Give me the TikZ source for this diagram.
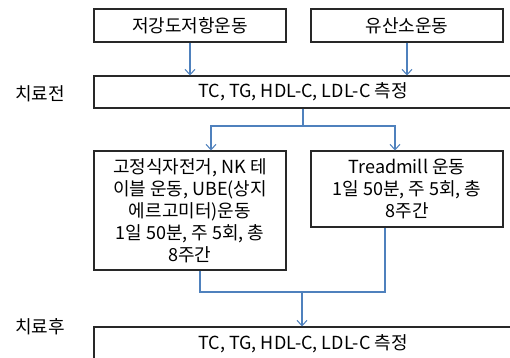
\documentclass[tikz,border=0pt]{standalone}
\usepackage{fontspec}
\setmainfont{Noto Sans CJK KR}
\usetikzlibrary{arrows.meta,calc}
\definecolor{flowblue}{RGB}{79,129,189}
\definecolor{boxgray}{RGB}{40,40,40}
\tikzset{
  box/.style={draw=boxgray,line width=0.8pt,inner sep=0pt,align=center,font=\fontsize{13.5}{16.5}\selectfont},
  flow/.style={draw=flowblue,line width=0.8pt,-{Straight Barb[length=4pt,width=7.5pt,line width=0.8pt]}},
  link/.style={draw=flowblue,line width=0.8pt},
  side/.style={font=\fontsize{13.5}{14}\selectfont}
}
\begin{document}
\begin{tikzpicture}[x=0.75pt,y=0.75pt,yscale=-1,xscale=1]
	\useasboundingbox (0,0) rectangle (510,357);
	\clip (0,0) rectangle (510,357);
	\node [box,minimum width=144pt,minimum height=24.75pt] (low) at (190,25.5) {저강도저항운동};
	\node [box,minimum width=144pt,minimum height=24.75pt] (aero) at (407,25.5) {유산소운동};
	\node [box,minimum width=313.5pt,minimum height=24pt] (pre) at (303,92) {\raisebox{-2pt}{TC, TG, HDL-C, LDL-C 측정}};
	\node [side] (prelbl) at (40,94) {치료전};
	\node [box,minimum width=144pt,minimum height=89.25pt] (bike) at (190,210.5) {고정식자전거, NK 테\\이블 운동, UBE(상지\\에르고미터)운동\\1일 50분, 주 5회, 총\\8주간};
	\node [box,minimum width=144pt,minimum height=57pt] (tread) at (407,189) {Treadmill 운동\\1일 50분, 주 5회, 총\\8주간};
	\node [box,minimum width=313.5pt,minimum height=25.5pt] (post) at (303,344) {\raisebox{-1pt}{TC, TG, HDL-C, LDL-C 측정}};
	\node [side] (postlbl) at (40,327) {치료후};
	\coordinate (split) at (303,126);
	\coordinate (merge) at (302,292);
	\draw [flow] (low.south) -- (low.south |- pre.north);
	\draw [flow] (aero.south) -- (aero.south |- pre.north);
	\draw [link] (pre.south) -- (split);
	\draw [flow] (split) -| ([xshift=15.75pt]bike.north);
	\draw [flow] (split) -| ([xshift=-9pt]tread.north);
	\draw [link] ([xshift=7.5pt]bike.south) |- (merge);
	\draw [link] ([xshift=-16.5pt]tread.south) |- (merge);
	\draw [flow] (merge) -- (merge |- post.north);
\end{tikzpicture}
\end{document}
